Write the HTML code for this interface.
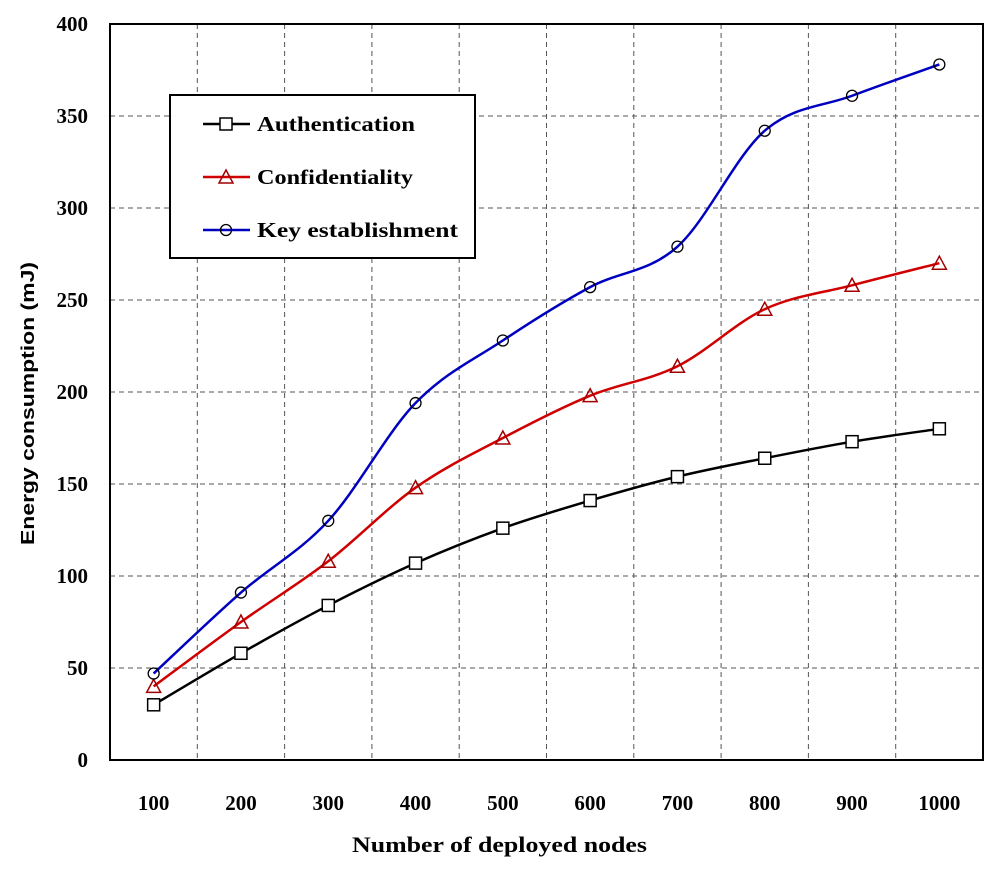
<!DOCTYPE html>
<html><head><meta charset="utf-8"><style>
body{margin:0;background:#fff;}
svg text{font-family:"Liberation Serif",serif;font-weight:bold;fill:#000;}
</style></head><body>
<svg id="chart" width="1000" height="866"></svg>
<script>
const categories=[100,200,300,400,500,600,700,800,900,1000];
const authValues=[30,58,84,107,126,141,154,164,173,180];
const confValues=[40,75,108,148,175,198,214,245,258,270];
const keyValues=[47,91,130,194,228,257,279,342,361,378];
const yTicks=[0,50,100,150,200,250,300,350,400];
const seriesNames=["Authentication","Confidentiality","Key establishment"];

const NS="http://www.w3.org/2000/svg";
const svg=document.getElementById('chart');
const L=110,R=983,T=24,B=760;
const step=(R-L)/categories.length;
function xs(i){return L+step*(i+0.5);}
function ys(v){return B-(v/400)*(B-T);}
function el(tag,attrs,parent){const e=document.createElementNS(NS,tag);for(const k in attrs)e.setAttribute(k,attrs[k]);(parent||svg).appendChild(e);return e;}

for(let i=1;i<categories.length;i++){
  const g=el('line',{x1:L+step*i,x2:L+step*i,y1:T,y2:B,stroke:'#555','stroke-dasharray':'5,4','stroke-width':1});
  
  
}
yTicks.forEach(v=>{
  if(v>0&&v<400){
    const g=el('line',{x1:L,x2:R,y1:ys(v),y2:ys(v),stroke:'#555','stroke-dasharray':'5,4','stroke-width':1});
    
    
  }
  const t=el('text',{x:88,y:ys(v)+7,'text-anchor':'end','font-size':21});
  t.textContent=v;
  
  
});
categories.forEach((c,i)=>{
  const t=el('text',{x:xs(i),y:810,'text-anchor':'middle','font-size':21});
  t.textContent=c;
  
  
});
const frame=el('rect',{x:L,y:T,width:R-L,height:B-T,fill:'none',stroke:'#000','stroke-width':2});



const xt=el('text',{x:352,y:852,'font-size':22,textLength:295,lengthAdjust:'spacingAndGlyphs'});
xt.textContent='Number of deployed nodes';


const yt=el('text',{x:0,y:0,'font-size':18,textLength:283,lengthAdjust:'spacingAndGlyphs',transform:'translate(34,545) rotate(-90)',style:'font-family:"Liberation Sans",sans-serif'});
yt.textContent='Energy consumption (mJ)';



function smoothPath(pts){
  let d=`M${pts[0][0]},${pts[0][1]}`;
  for(let i=0;i<pts.length-1;i++){
    const p0=pts[Math.max(0,i-1)],p1=pts[i],p2=pts[i+1],p3=pts[Math.min(pts.length-1,i+2)];
    const c1=[p1[0]+(p2[0]-p0[0])/6,p1[1]+(p2[1]-p0[1])/6];
    const c2=[p2[0]-(p3[0]-p1[0])/6,p2[1]-(p3[1]-p1[1])/6];
    d+=` C${c1[0]},${c1[1]} ${c2[0]},${c2[1]} ${p2[0]},${p2[1]}`;
  }
  return d;
}
function marker(type,x,y,color,name){
  let m;
  if(type==='square') m=el('rect',{x:x-6,y:y-6,width:12,height:12,fill:'#fff',stroke:'#000','stroke-width':1.5});
  else if(type==='tri') m=el('polygon',{points:`${x},${y-7} ${x-7},${y+6} ${x+7},${y+6}`,fill:'none',stroke:color,'stroke-width':1.5});
  else m=el('circle',{cx:x,cy:y,r:5.5,fill:'none',stroke:'#000','stroke-width':1.3});
  
  
}
const series=[[authValues,'#000','square','auth'],[confValues,'#d00000','tri','conf'],[keyValues,'#0000c0','circle','key']];
series.forEach(([vals,color,type,key])=>{
  const pts=vals.map((v,i)=>[xs(i),ys(v)]);
  const p=el('path',{d:smoothPath(pts),fill:'none',stroke:color,'stroke-width':2.5});
  
  
  pts.forEach(pt=>marker(type,pt[0],pt[1],'#a00000',key+'-point'));
});

const legendLens=[158,156,201];
const lg=el('g',{});


el('rect',{x:170,y:95,width:305,height:163,fill:'#fff',stroke:'#000','stroke-width':2},lg);
series.forEach(([vals,color,type,key],i)=>{
  const y=124+i*53;
  const ln=el('line',{x1:203,x2:250,y1:y,y2:y,stroke:color,'stroke-width':2.5},lg);
  
  
  marker(type,226,y,'#a00000','legend-marker-'+key);
  const t=el('text',{x:257,y:y+7,'font-size':21,textLength:legendLens[i],lengthAdjust:'spacingAndGlyphs'},lg);
  t.textContent=seriesNames[i];
  
  
});
</script>
</body></html>
